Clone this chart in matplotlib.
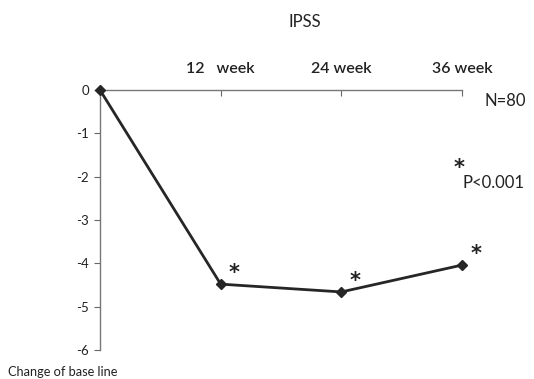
import matplotlib.pyplot as plt

weeks = [0, 12, 24, 36]
change = [0, -4.48, -4.66, -4.04]
tick_weeks = [12, 24, 36]
tick_labels = ['12   week', '24 week', '36 week']
y_ticks = [0, -1, -2, -3, -4, -5, -6]

plt.rcParams['font.family'] = ['Lato', 'DejaVu Sans']
txt = '#222222'

fig = plt.figure(figsize=(5.34, 3.79), dpi=100)
ax = fig.add_axes([100 / 534, 1 - 350 / 379, 362 / 534, 260 / 379])

ax.plot(weeks, change, color='#262626', linewidth=2, marker='D', markersize=5,
        clip_on=False, zorder=3)

ax.set_xlim(0, 36)
ax.set_ylim(-6, 0)

ax.xaxis.tick_top()
ax.set_xticks(tick_weeks)
ax.set_xticklabels(tick_labels, fontsize=11.5, color=txt, fontweight='semibold')
ax.tick_params(axis='x', direction='in', length=4, color='#666666', pad=10)
ax.set_yticks(y_ticks)
ax.set_yticklabels([str(v) for v in y_ticks], fontsize=9.5, color=txt)
ax.tick_params(axis='y', direction='out', length=4, color='#666666', pad=4)

for s in ['right', 'bottom']:
    ax.spines[s].set_visible(False)
for s in ['left', 'top']:
    ax.spines[s].set_color('#777777')
    ax.spines[s].set_linewidth(1)

# significance stars
for x, y in zip(weeks[1:], change[1:]):
    ax.annotate('*', (x, y), xytext=(6, 1), textcoords='offset points',
                fontsize=15, fontweight='bold', color='#222222', ha='left', va='bottom',
                family='DejaVu Sans')

fig.text(305 / 534, 1 - 22 / 379, 'IPSS', fontsize=12, color=txt, ha='center', va='center')
fig.text(485 / 534, 1 - 101 / 379, 'N=80', fontsize=12, color=txt, ha='left', va='center')
fig.text(459 / 534, 1 - 168 / 379, '*', fontsize=15, fontweight='bold', color='#222222',
         ha='center', va='center', family='DejaVu Sans')
fig.text(462 / 534, 1 - 183 / 379, 'P<0.001', fontsize=12, color=txt, ha='left', va='center')
fig.text(8 / 534, 1 - 372 / 379, 'Change of base line', fontsize=9.2, color=txt, ha='left', va='center')

fig.savefig('out.png', dpi=100)
